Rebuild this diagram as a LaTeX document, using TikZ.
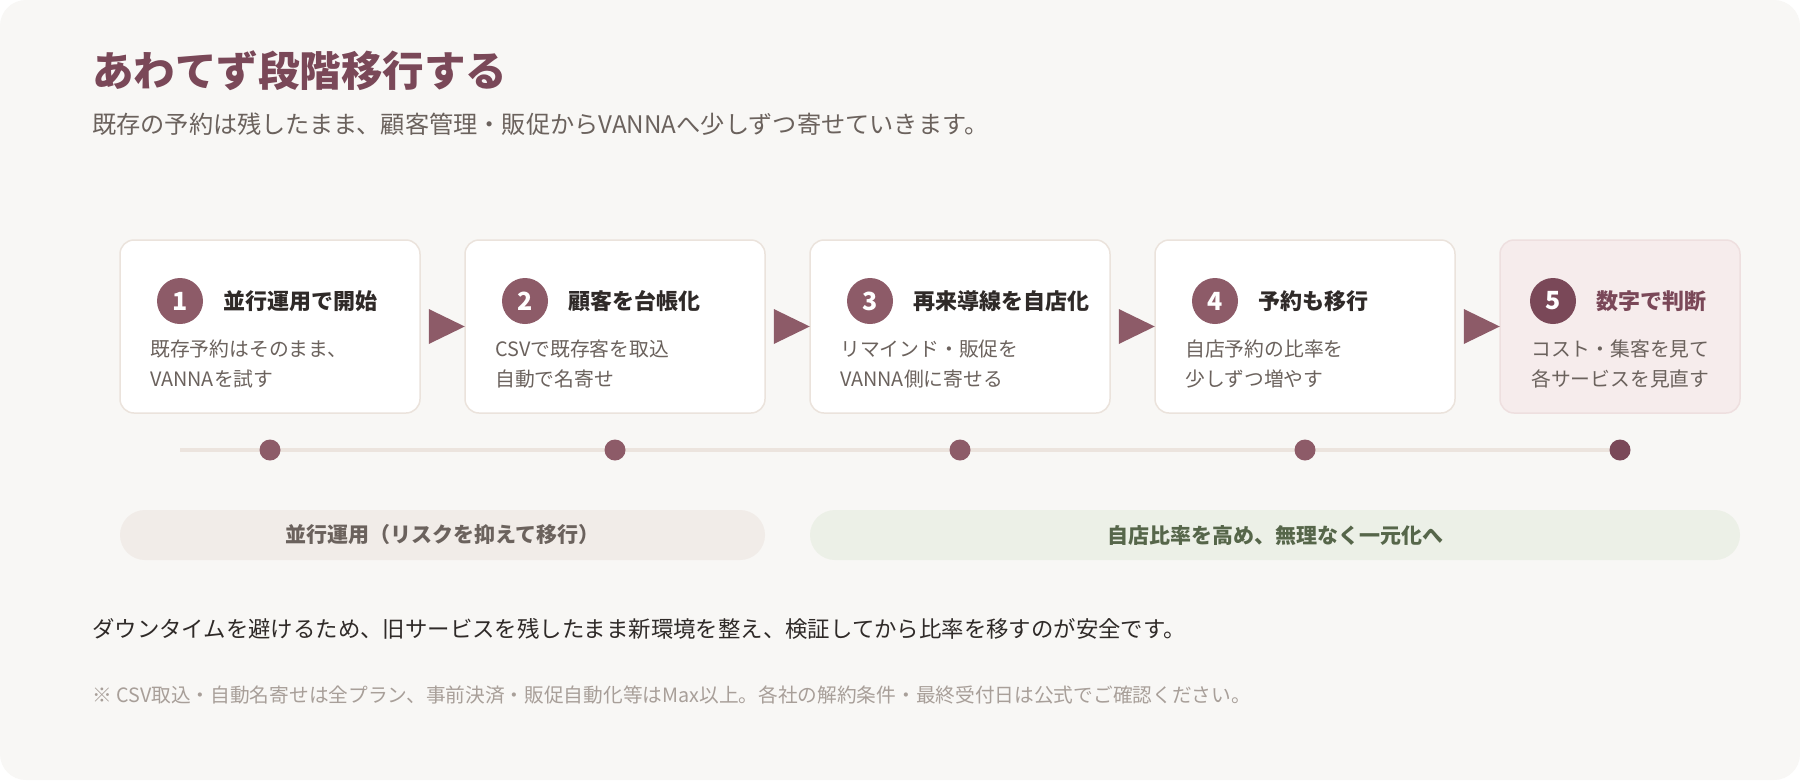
\documentclass[tikz,border=0pt]{standalone}
\usepackage{fontspec}
\setmainfont{Noto Sans CJK JP}
\usetikzlibrary{positioning, calc}

\definecolor{cardbg}{HTML}{F8F7F5}
\definecolor{boxline}{HTML}{EBE3DC}
\definecolor{mauve}{HTML}{8D5B68}
\definecolor{mauvedark}{HTML}{7A4858}
\definecolor{lastfill}{HTML}{F6ECEC}
\definecolor{lastline}{HTML}{EEDFDF}
\definecolor{headtext}{HTML}{2F2A28}
\definecolor{softtext}{HTML}{6B625D}
\definecolor{tlgray}{HTML}{ECE4DE}
\definecolor{barbeige}{HTML}{F1ECE8}
\definecolor{bargreen}{HTML}{ECF0E7}
\definecolor{greentext}{HTML}{56664A}
\definecolor{notetext}{HTML}{A89F99}

\begin{document}
\begin{tikzpicture}[x=1pt, y=-1pt,
    stepbox/.style={rectangle, rounded corners=14pt, draw=boxline, line width=1.5pt, fill=white, minimum width=300pt, minimum height=173pt},
    lastbox/.style={stepbox, fill=lastfill, draw=lastline, minimum width=240pt},
    num/.style={circle, fill=mauve, minimum size=46pt, inner sep=0pt, text=white, font=\fontsize{25}{28}\selectfont\bfseries},
    heading/.style={inner sep=0pt, anchor=west, text=headtext, font=\fontsize{22}{26}\selectfont\bfseries},
    body/.style={inner sep=0pt, anchor=west, align=left, text=softtext, font=\fontsize{19.8}{30}\selectfont},
    tri/.style={fill=mauve},
    tline/.style={draw=tlgray, line width=4.5pt},
    dot/.style={circle, fill=mauve, minimum size=21pt, inner sep=0pt},
    phasebar/.style={rectangle, rounded corners=25pt, minimum height=50pt, font=\fontsize{21}{24}\selectfont\bfseries}
  ]
    % card
    \fill[white] (0,0) rectangle (1800,780);
    \fill[cardbg, rounded corners=26pt] (0,0) rectangle (1800,780);

    \node[inner sep=0pt, anchor=west, text=mauvedark, font=\fontsize{41.5}{46}\selectfont\bfseries] (title) at (92,71) {あわてず段階移行する};
    \node[inner sep=0pt, anchor=west, text=softtext, font=\fontsize{24.2}{28}\selectfont] (subtitle) at (92,124) {既存の予約は残したまま、顧客管理・販促からVANNAへ少しずつ寄せていきます。};

    % steps
    \node[stepbox] (step1) at (270,326.5) {};
    \node[stepbox] (step2) at (615,326.5) {};
    \node[stepbox] (step3) at (960,326.5) {};
    \node[stepbox] (step4) at (1305,326.5) {};
    \node[lastbox] (step5) at (1620,326.5) {};

    \node[num] (num1) at (180,301) {1};
    \node[heading, right=20pt of num1] (head1) {並行運用で開始};
    \node[body] (body1) at (150,364) {既存予約はそのまま、\\VANNAを試す};

    \node[num] (num2) at (525,301) {2};
    \node[heading, right=20pt of num2] (head2) {顧客を台帳化};
    \node[body] (body2) at (495,364) {CSVで既存客を取込\\自動で名寄せ};

    \node[num] (num3) at (870,301) {3};
    \node[heading, right=20pt of num3] (head3) {再来導線を自店化};
    \node[body] (body3) at (840,364) {リマインド・販促を\\VANNA側に寄せる};

    \node[num] (num4) at (1215,301) {4};
    \node[heading, right=20pt of num4] (head4) {予約も移行};
    \node[body] (body4) at (1185,364) {自店予約の比率を\\少しずつ増やす};

    \node[num, fill=mauvedark] (num5) at (1553,301) {5};
    \node[heading, right=20pt of num5, text=mauvedark] (head5) {数字で判断};
    \node[body] (body5) at (1531,364) {コスト・集客を見て\\各サービスを見直す};

    % arrows between steps
    \fill[tri] ($(step1.east)+(8,-17.5)$) -- ($(step1.east)+(44,0)$) -- ($(step1.east)+(8,17.5)$) -- cycle;
    \fill[tri] ($(step2.east)+(8,-17.5)$) -- ($(step2.east)+(44,0)$) -- ($(step2.east)+(8,17.5)$) -- cycle;
    \fill[tri] ($(step3.east)+(8,-17.5)$) -- ($(step3.east)+(44,0)$) -- ($(step3.east)+(8,17.5)$) -- cycle;
    \fill[tri] ($(step4.east)+(8,-17.5)$) -- ($(step4.east)+(44,0)$) -- ($(step4.east)+(8,17.5)$) -- cycle;

    % timeline
    \coordinate (tlstart) at (180,450);
    \coordinate (tlend) at (1620,450);
    \draw[tline] (tlstart) -- (tlend);
    \node[dot] (dot1) at (step1.center |- tlstart) {};
    \node[dot] (dot2) at (step2.center |- tlstart) {};
    \node[dot] (dot3) at (step3.center |- tlstart) {};
    \node[dot] (dot4) at (step4.center |- tlstart) {};
    \node[dot, fill=mauvedark] (dot5) at (step5.center |- tlstart) {};

    % phases
    \node[phasebar, fill=barbeige, text=softtext, minimum width=645pt] (phase1) at (442.5,535) {並行運用（リスクを抑えて移行）};
    \node[phasebar, fill=bargreen, text=greentext, minimum width=930pt] (phase2) at (1275,535) {自店比率を高め、無理なく一元化へ};

    \node[inner sep=0pt, anchor=west, text=headtext, font=\fontsize{22.4}{26}\selectfont] (summary) at (92,629) {ダウンタイムを避けるため、旧サービスを残したまま新環境を整え、検証してから比率を移すのが安全です。};
    \node[inner sep=0pt, anchor=west, text=notetext, font=\fontsize{19.7}{24}\selectfont] (note) at (92,695) {※ CSV取込・自動名寄せは全プラン、事前決済・販促自動化等はMax以上。各社の解約条件・最終受付日は公式でご確認ください。};
\end{tikzpicture}
\end{document}
